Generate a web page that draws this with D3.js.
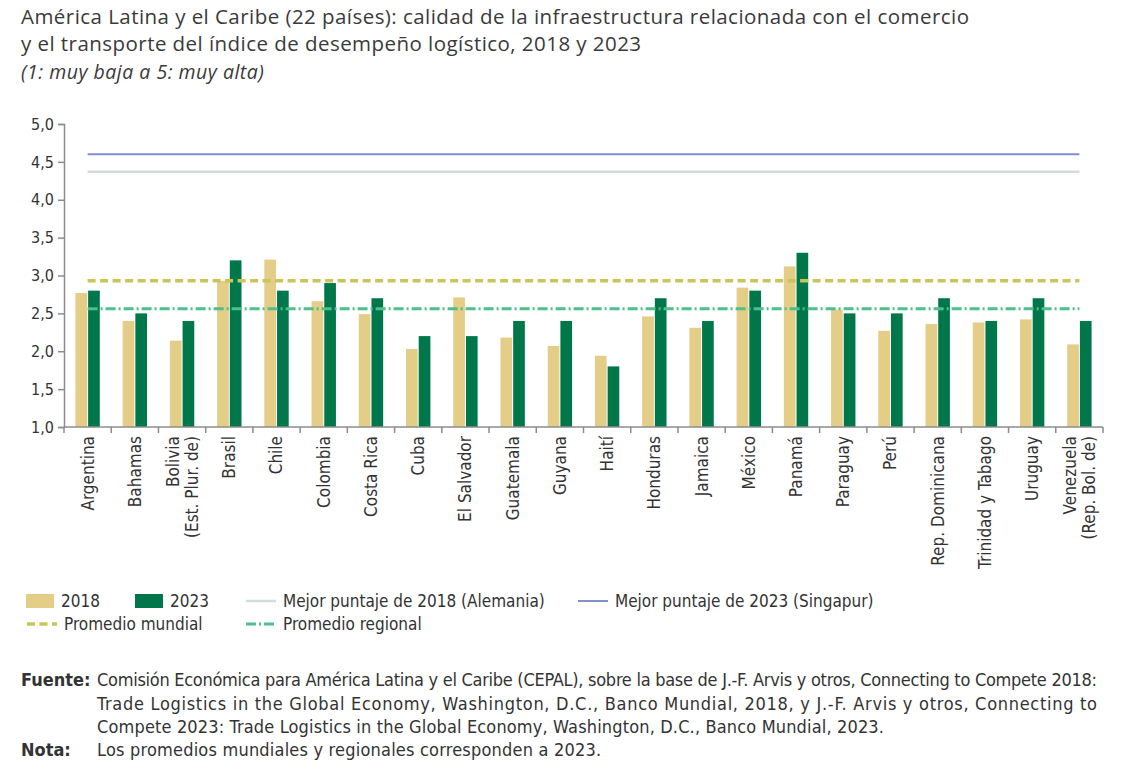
<!DOCTYPE html>
<html>
<head>
<meta charset="utf-8">
<script src="https://cdn.jsdelivr.net/npm/d3@7"></script>
<style>
  body { margin: 0; background: #fff; }
  svg { display: block; }
  .cond { font-family: "DejaVu Sans Condensed", "DejaVu Sans", sans-serif; font-stretch: condensed; }
  .title { font-family: "Open Sans", Lato, sans-serif; fill: #3a3a3a; }
</style>
</head>
<body>
<svg id="chart" width="1126" height="780"></svg>
<script>
// categories (a "\n" splits a label on two lines)
const countries = ["Argentina", "Bahamas", "Bolivia\n(Est. Plur. de)", "Brasil", "Chile", "Colombia",
  "Costa Rica", "Cuba", "El Salvador", "Guatemala", "Guyana", "Haití", "Honduras", "Jamaica",
  "México", "Panamá", "Paraguay", "Perú", "Rep. Dominicana", "Trinidad y Tabago", "Uruguay",
  "Venezuela\n(Rep. Bol. de)"];

const values2018 = [2.77, 2.40, 2.14, 2.93, 3.21, 2.66, 2.49, 2.03, 2.71, 2.18, 2.07,
  1.94, 2.46, 2.31, 2.84, 3.12, 2.55, 2.27, 2.36, 2.38, 2.42, 2.09];
const values2023 = [2.8, 2.5, 2.4, 3.2, 2.8, 2.9, 2.7, 2.2, 2.2, 2.4, 2.4,
  1.8, 2.7, 2.4, 2.8, 3.3, 2.5, 2.5, 2.7, 2.4, 2.7, 2.4];

const years = ["2018", "2023"];

// horizontal reference lines
const refNames = ["Mejor puntaje de 2018 (Alemania)", "Mejor puntaje de 2023 (Singapur)",
  "Promedio mundial", "Promedio regional"];
const refValues = [4.37, 4.6, 2.93, 2.56];

const yTicks = [1, 1.5, 2, 2.5, 3, 3.5, 4, 4.5, 5];

const titleLines = [
  "América Latina y el Caribe (22 países): calidad de la infraestructura relacionada con el comercio",
  "y el transporte del índice de desempeño logístico, 2018 y 2023"
];
const subtitle = "(1: muy baja a 5: muy alta)";
const sourceLines = [
  "Comisión Económica para América Latina y el Caribe (CEPAL), sobre la base de J.-F. Arvis y otros, Connecting to Compete 2018:",
  "Trade Logistics in the Global Economy, Washington, D.C., Banco Mundial, 2018, y J.-F. Arvis y otros, Connecting to",
  "Compete 2023: Trade Logistics in the Global Economy, Washington, D.C., Banco Mundial, 2023."
];
const noteText = "Los promedios mundiales y regionales corresponden a 2023.";

const yearColors = { "2018": "#e3cd87", "2023": "#00774b" };
const refStyles = [
  { color: "#cddedb", width: 2.5, dash: null },
  { color: "#7f90cd", width: 2, dash: null },
  { color: "#cbc458", width: 3.5, dash: "8,4.5" },
  { color: "#4fbf8b", width: 3, dash: "10,3,2,3" }
];

const svg = d3.select("#chart");
const plotLeft = 64, plotRight = 1103, plotTop = 124, plotBottom = 427;
const textColor = "#333";

// title
svg.selectAll("text.title-line")
  .data(titleLines)
  .enter()
  .append("text")
  .attr("class", "title")
  .attr("x", 21)
  .attr("y", (d, i) => 24 + i * 27)
  .style("font-size", "20.5px")
  .style("letter-spacing", "0.45px")
  .text(d => d);

svg.append("text")
  .attr("class", "title")
  .attr("x", 21)
  .attr("y", 79)
  .style("font-size", "19.5px")
  .style("letter-spacing", "0.5px")
  .style("font-style", "italic")
  .text(subtitle);

// scales
const x0 = d3.scaleBand()
  .domain(countries)
  .range([plotLeft, plotRight]);

const x1 = d3.scaleBand()
  .domain(years)
  .range([0, x0.bandwidth()])
  .paddingInner(0.08)
  .paddingOuter(0.9);

const y = d3.scaleLinear()
  .domain([1, 5])
  .range([plotBottom, plotTop]);

// bars
const rows = countries.map((c, i) => ({ country: c, values: [values2018[i], values2023[i]] }));

const groups = svg.append("g")
  .selectAll("g")
  .data(rows)
  .enter()
  .append("g")
  .attr("transform", d => `translate(${x0(d.country)},0)`);

groups.selectAll("rect")
  .data(d => years.map((yr, j) => ({ year: yr, value: d.values[j] })))
  .enter()
  .append("rect")
  .attr("x", d => x1(d.year))
  .attr("width", x1.bandwidth())
  .attr("y", d => y(d.value))
  .attr("height", d => y(1) - y(d.value))
  .attr("fill", d => yearColors[d.year]);

// reference lines from first to last category centre
const lineStart = x0(countries[0]) + x0.bandwidth() / 2;
const lineEnd = x0(countries[countries.length - 1]) + x0.bandwidth() / 2;

svg.append("g")
  .selectAll("line")
  .data(refValues)
  .enter()
  .append("line")
  .attr("x1", lineStart)
  .attr("x2", lineEnd)
  .attr("y1", d => y(d))
  .attr("y2", d => y(d))
  .attr("stroke", (d, i) => refStyles[i].color)
  .attr("stroke-width", (d, i) => refStyles[i].width)
  .attr("stroke-dasharray", (d, i) => refStyles[i].dash);

// y axis
const yAxis = svg.append("g")
  .attr("class", "cond")
  .attr("transform", `translate(${plotLeft},0)`)
  .call(d3.axisLeft(y)
    .tickValues(yTicks)
    .tickSize(6)
    .tickPadding(4)
    .tickFormat(d => d3.format(".1f")(d).replace(".", ",")));

yAxis.select(".domain").attr("stroke", "#8c8c8c").attr("stroke-width", 1.5);
yAxis.selectAll(".tick line").attr("stroke", "#8c8c8c").attr("stroke-width", 1.5);
yAxis.selectAll(".tick text")
  .attr("fill", textColor)
  .style("font-size", "16px");

// x axis: baseline and ticks at category boundaries
const xAxis = svg.append("g");
xAxis.append("line")
  .attr("x1", plotLeft)
  .attr("x2", plotRight)
  .attr("y1", y(1))
  .attr("y2", y(1))
  .attr("stroke", "#8c8c8c")
  .attr("stroke-width", 1.5);

xAxis.selectAll("line.tick")
  .data(countries.concat(["end"]))
  .enter()
  .append("line")
  .attr("class", "tick")
  .attr("x1", (d, i) => plotLeft + i * x0.step())
  .attr("x2", (d, i) => plotLeft + i * x0.step())
  .attr("y1", y(1))
  .attr("y2", y(1) + 6)
  .attr("stroke", "#8c8c8c")
  .attr("stroke-width", 1.5);

// rotated category labels
const labels = xAxis.selectAll("text")
  .data(countries)
  .enter()
  .append("text")
  .attr("class", "cond")
  .attr("transform", d => `translate(${x0(d) + x0.bandwidth() / 2},${y(1) + 9}) rotate(-90)`)
  .attr("text-anchor", "end")
  .attr("fill", textColor)
  .style("font-size", "17px");

labels.each(function (d) {
  const parts = d.split("\n");
  const gap = 19;
  parts.forEach((p, k) => {
    d3.select(this).append("tspan")
      .attr("x", 0)
      .attr("y", (k - (parts.length - 1) / 2) * gap)
      .attr("dy", "0.35em")
      .text(p);
  });
});

// legend
const legend = svg.append("g").attr("class", "cond").style("font-size", "17px");
const legendItems = [
  { type: "rect", color: yearColors["2018"], label: "2018", x: 26, row: 0 },
  { type: "rect", color: yearColors["2023"], label: "2023", x: 135, row: 0 },
  { type: "line", style: refStyles[0], label: refNames[0], x: 246, row: 0 },
  { type: "line", style: refStyles[1], label: refNames[1], x: 578, row: 0 },
  { type: "line", style: refStyles[2], label: refNames[2], x: 27, row: 1 },
  { type: "line", style: refStyles[3], label: refNames[3], x: 246, row: 1 }
];

legendItems.forEach(item => {
  const cy = 601 + item.row * 23;
  if (item.type === "rect") {
    legend.append("rect")
      .attr("x", item.x)
      .attr("y", cy - 7)
      .attr("width", 28)
      .attr("height", 14)
      .attr("fill", item.color);
  } else {
    legend.append("line")
      .attr("x1", item.x)
      .attr("x2", item.x + 30)
      .attr("y1", cy)
      .attr("y2", cy)
      .attr("stroke", item.style.color)
      .attr("stroke-width", item.style.width)
      .attr("stroke-dasharray", item.style.dash);
  }
  legend.append("text")
    .attr("x", item.type === "rect" ? item.x + 35 : item.x + 37)
    .attr("y", cy)
    .attr("dy", "0.35em")
    .attr("fill", textColor)
    .text(item.label);
});

// source and note
const foot = svg.append("g").attr("class", "cond").style("font-size", "18px").attr("fill", textColor);

foot.append("text")
  .attr("x", 21)
  .attr("y", 686)
  .style("font-weight", "bold")
  .text("Fuente:");

sourceLines.forEach((line, i) => {
  const t = foot.append("text")
    .attr("x", 97)
    .attr("y", 686 + i * 23.5)
    .style("letter-spacing", i < 2 ? null : "0.15px")
    .text(line);
  // the first two lines are justified to the full width
  if (i < 2) {
    t.attr("textLength", 1000).attr("lengthAdjust", "spacing");
  }
});

foot.append("text")
  .attr("x", 21)
  .attr("y", 756)
  .style("font-weight", "bold")
  .text("Nota:");

foot.append("text")
  .attr("x", 97)
  .attr("y", 756)
  .style("letter-spacing", "0.2px")
  .text(noteText);
</script>
</body>
</html>
